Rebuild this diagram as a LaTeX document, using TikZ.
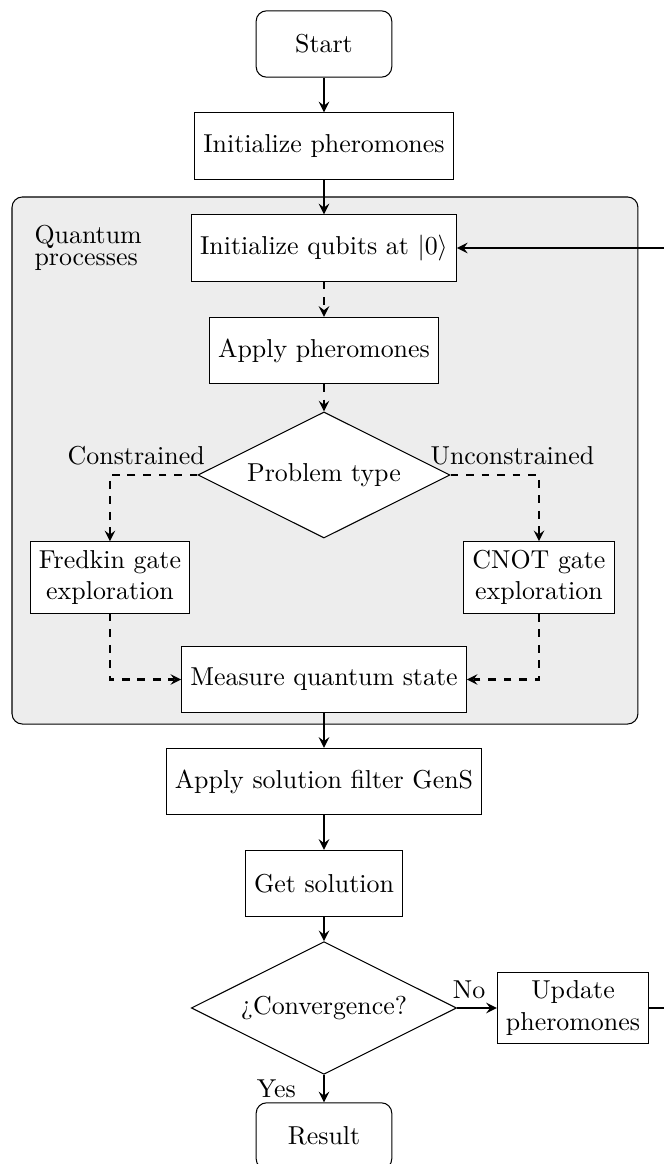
\documentclass[tikz,border=0pt]{standalone}
\usepackage{tikz}
\usetikzlibrary{shapes.geometric}

\tikzset{
	startstop/.style={draw, rounded corners, fill=white, minimum width=1.84cm, minimum height=0.9cm},
	process/.style={draw, fill=white, minimum height=0.9cm, align=center},
	decision/.style={draw, diamond, aspect=2, fill=white},
	arr/.style={thick, -stealth},
	dasharr/.style={thick, dashed, -stealth},
}

\begin{document}
\begin{tikzpicture}
		%%%%% START %%%%%
		
		\useasboundingbox (-4.396, 0) rectangle (4.613, -15.794);
		
		\draw[fill=black!7, rounded corners] (-4.233, -2.673) rectangle (4.260, -9.824);
		\node[anchor=north west, align=left] (qlabel) at (-4.052, -2.936) {Quantum\\[-3.5pt]processes};
		
		\node[startstop] (start) at (0, -0.597) {Start};
		\node[process] (initp) at (0, -1.981) {Initialize pheromones};
		\node[process] (initq) at (0, -3.365) {Initialize qubits at $|0\rangle$};
		\node[process] (applyp) at (0, -4.756) {Apply pheromones};
		\node[decision] (ptype) at (0, -6.445) {Problem type};
		
		\node[process] (fredkin) at (-2.904, -7.836) {Fredkin gate\\exploration};
		\node[process] (cnot) at (2.917, -7.836) {CNOT gate\\exploration};
		\node[process] (measure) at (0, -9.220) {Measure quantum state};
		
		\node[process] (gens) at (0, -10.604) {Apply solution filter GenS};
		\node[process] (getsol) at (0, -11.988) {Get solution};
		\node[decision] (conv) at (0, -13.677) {¿Convergence?};
		\node[process] (update) at (3.379, -13.677) {Update\\pheromones};
		\node[startstop] (result) at (0, -15.414) {Result};
		
		\coordinate (back) at (4.68, -3.365);
		
		\draw[arr] (start) -- (initp);
		\draw[arr] (initp) -- (initq);
		\draw[dasharr] (initq) -- (applyp);
		\draw[dasharr] (applyp) -- (ptype);
		
		\draw[dasharr] (ptype.west) -| node[pos=0.35, above] {Constrained} (fredkin.north);
		\draw[dasharr] (ptype.east) -| node[pos=0.35, above] {Unconstrained} (cnot.north);
		\draw[dasharr] (fredkin.south) |- (measure.west);
		\draw[dasharr] (cnot.south) |- (measure.east);
		
		\draw[arr] (measure) -- (gens);
		\draw[arr] (gens) -- (getsol);
		\draw[arr] (getsol) -- (conv);
		\draw[arr] (conv.east) -- node[pos=0.3, above] {No} (update.west);
		\draw[arr] (conv.south) -- node[midway, left=0.25cm] {Yes} (result.north);
		\draw[arr] (update.east) -| (back) -- (initq.east);
		
		%%%%% END %%%%%
	\end{tikzpicture}
\end{document}
